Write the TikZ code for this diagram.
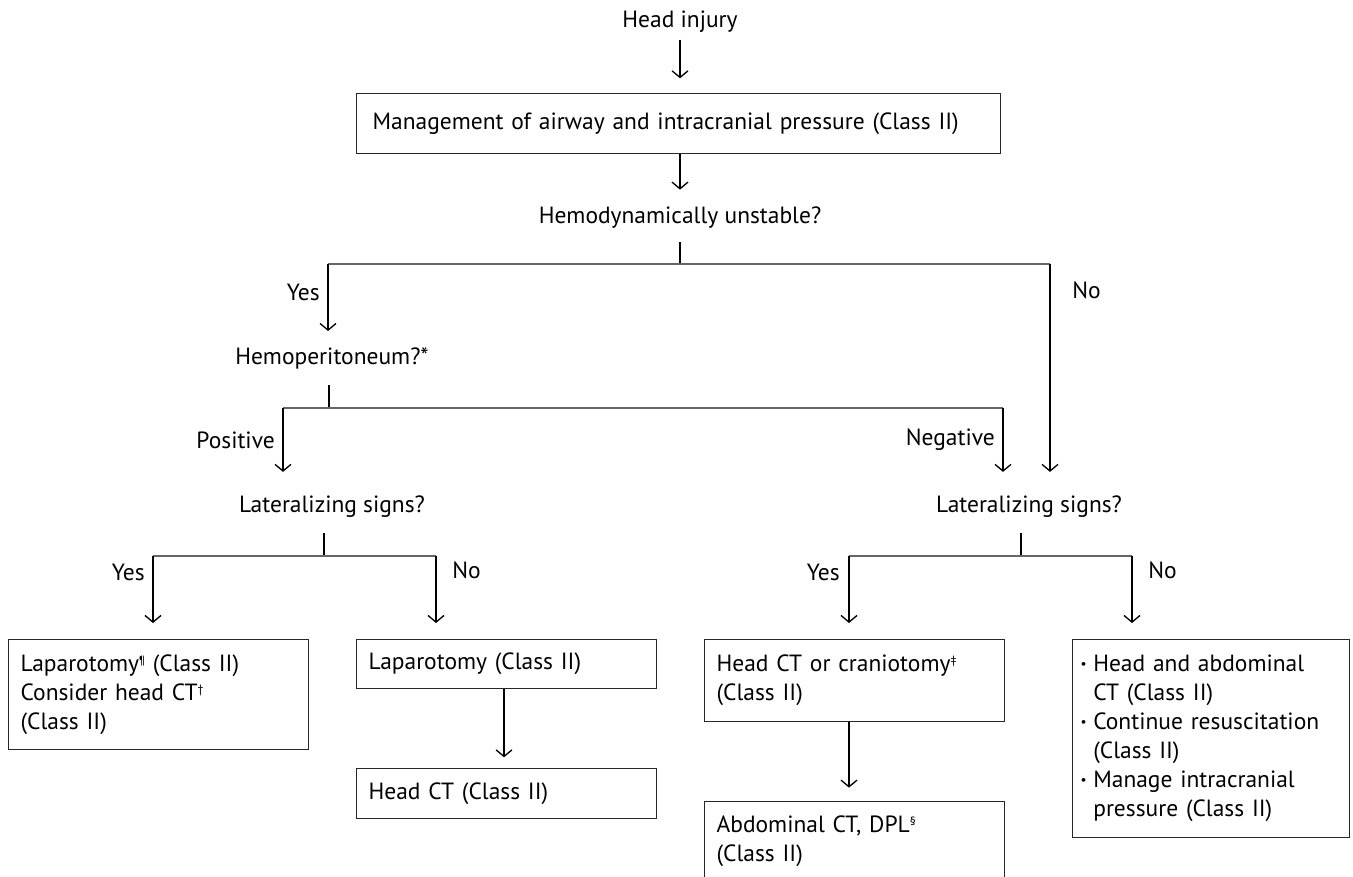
\documentclass[tikz,border=0pt]{standalone}
\usepackage{fontspec}
\setmainfont{PT Sans}
\usetikzlibrary{arrows.meta}
\newcommand{\bul}{\raisebox{2.5pt}{\fontsize{10pt}{10pt}\selectfont\textbullet}}
\newcommand{\sups}[1]{\raisebox{5.5pt}{\fontsize{9pt}{9pt}\selectfont #1}}
\begin{document}
\begin{tikzpicture}[x=0.75pt,y=-0.75pt,
  every node/.style={font=\fontsize{17.6pt}{21.75pt}\selectfont},
  txt/.style={inner sep=0pt},
  box/.style={draw=black!85, line width=0.9pt, anchor=north west, align=left, inner xsep=9pt, inner ysep=0pt},
  arr/.style={line width=1.1pt, -{Straight Barb[length=5pt,width=12pt,line width=1pt]}},
  vline/.style={line width=1.1pt},
  hline/.style={line width=1pt, draw=black!60},
]
\useasboundingbox[fill=white] (0,0) rectangle (1353,877);
% top
\node[txt] (hi) at (680,22) {Head injury};
\node[box, inner xsep=12pt, text width=459pt, minimum height=45pt] (b1) at (356,93) {Management of airway and intracranial pressure (Class II)};
\node[txt] (hu) at (680,218) {Hemodynamically unstable?};
\coordinate (j1) at (680,264);
\coordinate (yL) at (328,264);
\coordinate (nR) at (1050,264);
\draw[arr, shorten <=5pt, shorten >=11pt] (hi) -- (b1.north -| hi);
\draw[arr, shorten >=13pt] (b1.south -| hu) -- (hu.north);
\draw[vline, shorten <=10pt] (hu.south) -- (j1);
\draw[hline] (yL) -- (nR);
% first level
\node[txt] (hp) at (332,358) {Hemoperitoneum?*};
\node[txt, anchor=east] (yes1) at (320,292) {Yes};
\node[txt, anchor=west] (no1) at (1072,290) {No};
\draw[arr, shorten >=12pt] (yL) -- (yL |- hp.north);
\coordinate (j2) at (329,408);
\coordinate (pL) at (283,408);
\coordinate (nM) at (1003,408);
\draw[vline, shorten <=12pt] (hp.south -| j2) -- (j2);
\draw[hline] (pL) -- (nM);
\node[txt, anchor=east] (pos) at (275,440) {Positive};
\node[txt, anchor=east] (neg) at (995,440) {Negative};
% lateralizing
\node[txt] (ls1) at (332,507) {Lateralizing signs?};
\node[txt] (ls2) at (1029,507) {Lateralizing signs?};
\draw[arr, shorten >=18pt] (pL) -- (pL |- ls1.north);
\draw[arr, shorten >=18pt] (nM) -- (nM |- ls2.north);
\draw[arr, shorten >=18pt] (nR) -- (nR |- ls2.north);
\coordinate (j3) at (324,556);
\coordinate (aL) at (153,556);
\coordinate (aR) at (436,556);
\coordinate (j4) at (1021,556);
\coordinate (bL) at (849,556);
\coordinate (bR) at (1132,556);
\draw[vline, shorten <=11pt] (ls1.south -| j3) -- (j3);
\draw[vline, shorten <=11pt] (ls2.south -| j4) -- (j4);
\draw[hline] (aL) -- (aR);
\draw[hline] (bL) -- (bR);
\node[txt, anchor=east] (yes2) at (145,572) {Yes};
\node[txt, anchor=west] (no2) at (452,570) {No};
\node[txt, anchor=east] (yes3) at (840,572) {Yes};
\node[txt, anchor=west] (no3) at (1148,570) {No};
% boxes
\node[box, text width=207pt, minimum height=82.5pt] (l1) at (8,639) {Laparotomy\sups{¶} (Class II)\\Consider head CT\sups{†}\\(Class II)};
\node[box, text width=207pt, minimum height=36.75pt] (l2) at (356,639) {Laparotomy (Class II)};
\node[box, text width=207pt, minimum height=37.5pt] (l3) at (356,768) {Head CT (Class II)};
\node[box, text width=207pt, minimum height=61.5pt] (r1) at (704,639) {Head CT or craniotomy\sups{‡}\\(Class II)};
\node[box, text width=207pt, minimum height=60pt] (r2) at (704,801) {Abdominal CT, DPL\sups{§}\\(Class II)};
\node[box, inner xsep=6pt, text width=195.75pt, minimum height=148.5pt] (r3) at (1072,639) {\begin{tabular}{@{}l@{\hspace{5pt}}l@{}}
\bul & Head and abdominal\\
 & CT (Class II)\\
\bul & Continue resuscitation\\
 & (Class II)\\
\bul & Manage intracranial\\
 & pressure (Class II)
\end{tabular}};
\coordinate (m2) at (504,700);
\draw[arr, shorten >=12pt] (aL) -- (aL |- l1.north);
\draw[arr, shorten >=12pt] (aR) -- (aR |- l2.north);
\draw[arr, shorten >=12pt] (bL) -- (bL |- r1.north);
\draw[arr, shorten >=12pt] (bR) -- (bR |- r3.north);
\draw[arr, shorten >=8pt] (l2.south -| m2) -- (m2 |- l3.north);
\draw[arr, shorten >=10pt] (r1.south -| bL) -- (bL |- r2.north);
\end{tikzpicture}
\end{document}
